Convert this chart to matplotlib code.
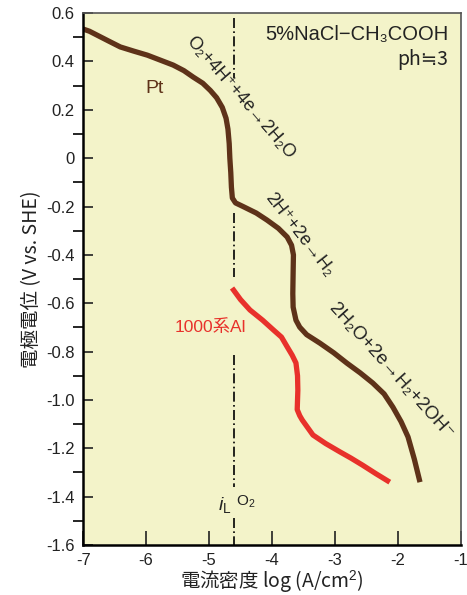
import matplotlib.pyplot as plt

plt.rcParams['font.family'] = ['Liberation Sans', 'Noto Sans CJK JP', 'DejaVu Sans']
plt.rcParams['mathtext.fontset'] = 'custom'
plt.rcParams['mathtext.rm'] = 'Liberation Sans'
plt.rcParams['mathtext.it'] = 'Liberation Sans:italic'

# Pt カーブ (log i, E)
pt_x = [-7.0, -6.9, -6.78, -6.6, -6.41, -6.2, -5.98, -5.77, -5.57, -5.40, -5.25, -5.10,
        -4.98, -4.88, -4.79, -4.73, -4.70, -4.68, -4.67, -4.655, -4.645, -4.63, -4.58,
        -4.46, -4.25, -4.08, -3.90, -3.76, -3.69, -3.66, -3.665, -3.67, -3.665, -3.62,
        -3.56, -3.45, -3.24, -3.02, -2.81, -2.60, -2.40, -2.22, -2.08, -1.95, -1.84,
        -1.74, -1.65]
pt_y = [0.534, 0.525, 0.509, 0.485, 0.46, 0.443, 0.426, 0.405, 0.385, 0.362, 0.335, 0.31,
        0.28, 0.25, 0.21, 0.165, 0.12, 0.06, 0.0, -0.06, -0.12, -0.165, -0.185,
        -0.20, -0.227, -0.256, -0.29, -0.326, -0.36, -0.40, -0.475, -0.56, -0.616, -0.67,
        -0.699, -0.73, -0.765, -0.805, -0.848, -0.888, -0.93, -0.975, -1.03, -1.09, -1.153,
        -1.245, -1.34]

# 1000系Al カーブ
al_x = [-4.635, -4.50, -4.35, -4.15, -3.98, -3.85, -3.76, -3.68, -3.62, -3.595, -3.59,
        -3.60, -3.56, -3.52, -3.35, -3.15, -2.92, -2.75, -2.56, -2.35, -2.13]
al_y = [-0.537, -0.585, -0.628, -0.67, -0.71, -0.74, -0.78, -0.815, -0.847, -0.90, -0.96,
        -1.04, -1.065, -1.083, -1.145, -1.18, -1.215, -1.24, -1.27, -1.305, -1.34]

il_x = -4.6
xticks = [-7, -6, -5, -4, -3, -2, -1]
yticks = [0.6, 0.4, 0.2, 0, -0.2, -0.4, -0.6, -0.8, -1.0, -1.2, -1.4, -1.6]
ylabels = ['0.6', '0.4', '0.2', '0', '-0.2', '-0.4', '-0.6', '-0.8', '-1.0', '-1.2', '-1.4', '-1.6']

brown = '#5e3219'
red = '#e8312b'
tc = '#222222'
rx_font = ['Liberation Sans', 'DejaVu Sans']

fig = plt.figure(figsize=(4.67, 5.95), dpi=100)
ax = fig.add_axes([0.178, 0.084, 0.809, 0.894])
ax.set_facecolor('#f3f3c9')

ax.plot(pt_x, pt_y, color=brown, lw=3.8, solid_capstyle='butt', solid_joinstyle='round')
ax.plot(al_x, al_y, color=red, lw=3.8, solid_capstyle='butt', solid_joinstyle='round')

# 限界電流密度の一点鎖線 (ラベル部分は途切れる)
for y0, y1 in [(0.58, 0.33), (-0.227, -0.49), (-0.814, -1.36), (-1.49, -1.6)]:
    ax.plot([il_x, il_x], [y0, y1], color='black', lw=1.2, ls='-.', dashes=(6, 2, 1, 2))

ax.set_xlim(-7, -1)
ax.set_ylim(-1.6, 0.6)
ax.set_xticks(xticks)
ax.set_xticklabels([str(v) for v in xticks])
ax.set_yticks(yticks)
ax.set_yticklabels(ylabels)
ax.set_yticks([0.5, 0.3, 0.1, -0.1, -0.3, -0.5, -0.7, -0.9, -1.1, -1.3, -1.5], minor=True)
ax.tick_params(axis='both', direction='in', labelsize=12, colors=tc, pad=6)
ax.tick_params(axis='x', length=10, width=1.2)
ax.tick_params(axis='y', which='major', length=7, width=1.2)
ax.tick_params(axis='y', which='minor', length=7, width=1.2)

for s in ['top', 'right']:
    ax.spines[s].set_color('#555555')
    ax.spines[s].set_linewidth(1.2)
for s in ['left', 'bottom']:
    ax.spines[s].set_color('black')
    ax.spines[s].set_linewidth(1.8)

ax.set_xlabel('電流密度 log (A/cm$^2$)', fontsize=14, color=tc, labelpad=0,
              family=['Noto Sans CJK JP', 'DejaVu Sans'])
ax.set_ylabel('電極電位 (V vs. SHE)', fontsize=14, color=tc, labelpad=3,
              family=['Noto Sans CJK JP', 'DejaVu Sans'])

ax.text(-1.2, 0.51, '5%NaCl−CH₃COOH', ha='right', va='center', fontsize=14.5, color=tc,
        family=rx_font)
ax.text(-1.2, 0.41, 'ph≒3', ha='right', va='center', fontsize=14, color=tc,
        family=['Noto Sans CJK JP', 'DejaVu Sans'])
ax.text(-5.86, 0.29, 'Pt', ha='center', va='center', fontsize=14, color=brown)
ax.text(-4.98, -0.70, '1000系Al', ha='center', va='center', fontsize=12.5, color=red,
        family=['Liberation Sans', 'Noto Sans CJK JP'])

ax.text(-4.51, 0.25, 'O₂+4H⁺+4e→2H₂O', rotation=-49, ha='center', va='center',
        fontsize=13, color=tc, rotation_mode='anchor', family=rx_font)
ax.text(-3.56, -0.318, '2H⁺+2e→H₂', rotation=-52, ha='center', va='center',
        fontsize=13, color=tc, rotation_mode='anchor', family=rx_font)
ax.text(-2.12, -0.88, '2H₂O+2e→H₂+2OH⁻', rotation=-48, ha='center', va='center',
        fontsize=13.5, color=tc, rotation_mode='anchor', family=rx_font)

ax.text(il_x - 0.04, -1.435, '$i_{\\mathrm{L}}$', ha='right', va='center', fontsize=14, color=tc)
ax.text(il_x + 0.03, -1.42, 'O$_2$', ha='left', va='center', fontsize=11, color=tc)

fig.savefig('out.png', dpi=100)
